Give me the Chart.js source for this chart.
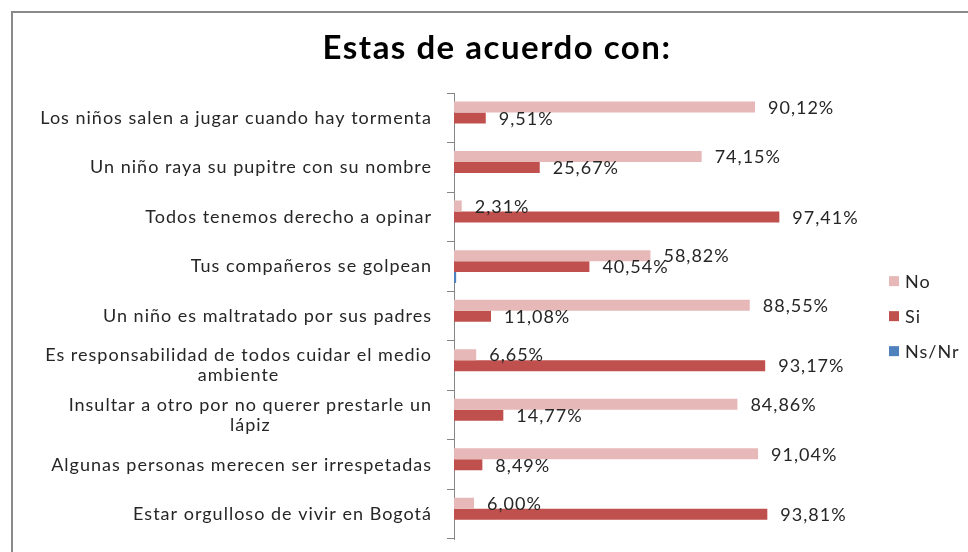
<!DOCTYPE html>
<html>
<head>
<meta charset="utf-8">
<script src="https://cdn.jsdelivr.net/npm/chart.js@4.4.1/dist/chart.umd.min.js"></script>
<style>
  html, body { margin: 0; padding: 0; background: #fff; overflow: hidden; }
  #wrap { position: relative; width: 968px; height: 552px; }
  #frame { position: absolute; left: 11px; top: 11px; width: 1000px; height: 600px; border: 2px solid #8a8a8a; }
  canvas { position: absolute; left: 0; top: 0; }
</style>
</head>
<body>
<div id="wrap">
  <div id="frame"></div>
  <canvas id="chart" width="968" height="552"></canvas>
</div>
<script>
const categories = [
  'Los niños salen a jugar cuando hay tormenta',
  'Un niño raya su pupitre con su nombre',
  'Todos tenemos derecho a opinar',
  'Tus compañeros se golpean',
  'Un niño es maltratado por sus padres',
  ['Es responsabilidad de todos cuidar el medio', 'ambiente'],
  ['Insultar a otro por no querer prestarle un', 'lápiz'],
  'Algunas personas merecen ser irrespetadas',
  'Estar orgulloso de vivir en Bogotá'
];
const noValues = [90.12, 74.15, 2.31, 58.82, 88.55, 6.65, 84.86, 91.04, 6.00];
const siValues = [9.51, 25.67, 97.41, 40.54, 11.08, 93.17, 14.77, 8.49, 93.81];
const nsnrValues = [0, 0, 0, 0.64, 0, 0, 0, 0, 0];

const FONT = 'Lato, sans-serif';
const TEXT = '#262626';

// wider letter spacing for the title (drawn by the title plugin)
const spacingPlugin = {
  id: 'spacing',
  beforeDraw(chart) { chart.ctx.letterSpacing = '1.5px'; }
};

// value labels, category labels and legend drawn by hand
const labelsPlugin = {
  id: 'labels',
  afterDatasetsDraw(chart) {
    const ctx = chart.ctx;
    ctx.save();
    ctx.font = '18px ' + FONT;
    ctx.letterSpacing = '1px';
    ctx.fillStyle = TEXT;
    ctx.textBaseline = 'middle';

    ctx.textAlign = 'left';
    [0, 1].forEach(d => {
      chart.getDatasetMeta(d).data.forEach((bar, i) => {
        const v = chart.data.datasets[d].data[i];
        ctx.fillText(v.toFixed(2).replace('.', ',') + '%', bar.x + 13, bar.y + 1);
      });
    });

    const yScale = chart.scales.y;
    const right = yScale.right - 22;
    chart.data.labels.forEach((lab, i) => {
      const lines = Array.isArray(lab) ? lab : [lab];
      const cy = yScale.getPixelForTick(i);
      const w0 = ctx.measureText(lines[0]).width;
      const top = cy - (lines.length - 1) * 10;
      lines.forEach((t, k) => {
        ctx.textAlign = k === 0 ? 'right' : 'center';
        ctx.fillText(t, k === 0 ? right : right - w0 / 2, top + k * 20);
      });
    });

    const area = chart.chartArea;
    const lx = area.right + 101;
    const midY = (area.top + area.bottom) / 2;
    ctx.textAlign = 'left';
    chart.data.datasets.forEach((ds, i) => {
      const y = midY + (i - 1) * 35;
      ctx.fillStyle = ds.backgroundColor;
      ctx.fillRect(lx, y - 5, 10, 10);
      ctx.fillStyle = TEXT;
      ctx.fillText(ds.label, lx + 16, y + 1);
    });
    ctx.restore();
  }
};

const ctx = document.getElementById('chart').getContext('2d');
new Chart(ctx, {
  type: 'bar',
  data: {
    labels: categories,
    datasets: [
      { label: 'No', data: noValues, backgroundColor: '#E6B9B8' },
      { label: 'Si', data: siValues, backgroundColor: '#C0504D' },
      { label: 'Ns/Nr', data: nsnrValues, backgroundColor: '#4F81BD' }
    ]
  },
  options: {
    indexAxis: 'y',
    responsive: false,
    animation: false,
    datasets: {
      bar: { barPercentage: 1, categoryPercentage: 0.666 }
    },
    layout: { padding: { left: 26, right: 0, top: 0, bottom: 13 } },
    plugins: {
      legend: { display: false },
      tooltip: { enabled: false },
      title: {
        display: true,
        text: 'Estas de acuerdo con:',
        color: '#000',
        font: { family: FONT, size: 33, weight: 'bold', lineHeight: 1.1 },
        padding: { top: 30, bottom: 27 }
      }
    },
    scales: {
      x: { display: false, min: 0, max: 100 },
      y: {
        grid: { drawOnChartArea: false, tickLength: 7, color: '#868686' },
        border: { color: '#868686' },
        ticks: { display: false },
        afterFit(s) { s.width = 428; }
      },
      spacer: {
        type: 'linear',
        position: 'right',
        grid: { display: false },
        border: { display: false },
        ticks: { display: false },
        afterFit(s) { s.width = 180; }
      }
    }
  },
  plugins: [spacingPlugin, labelsPlugin]
});
</script>
</body>
</html>
